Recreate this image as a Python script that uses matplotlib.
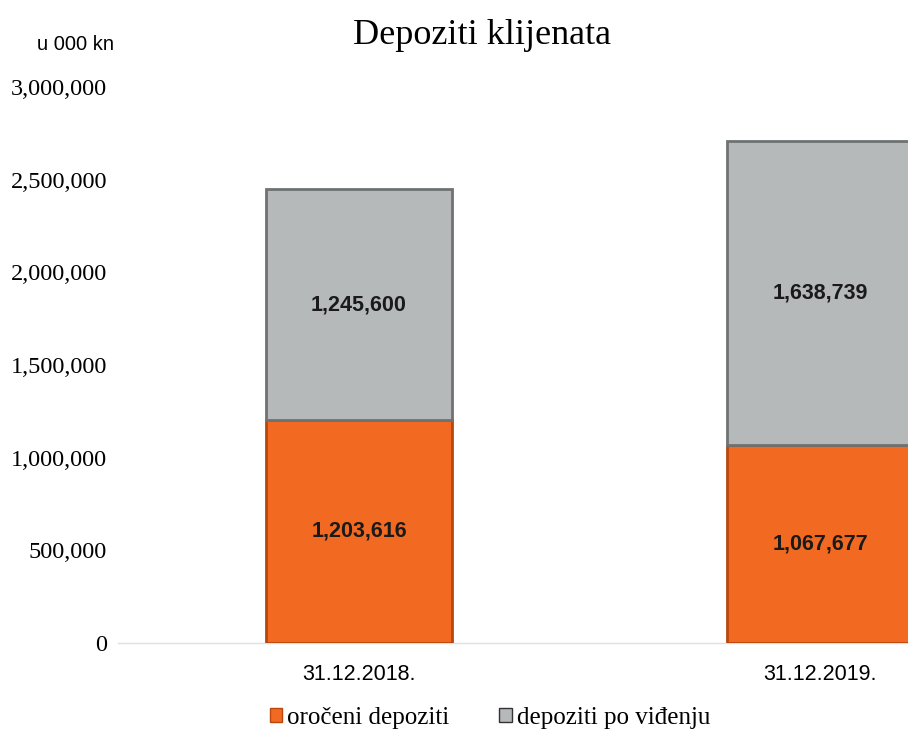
import matplotlib
matplotlib.use("Agg")
import matplotlib.pyplot as plt
from matplotlib.patches import Patch
from matplotlib.ticker import FuncFormatter

categories = ["31.12.2018.", "31.12.2019."]
oroceni = [1203616, 1067677]
po_vidjenju = [1245600, 1638739]
series_names = ["oročeni depoziti", "depoziti po viđenju"]
yticks = [0, 500000, 1000000, 1500000, 2000000, 2500000, 3000000]

orange = "#F26A21"
orange_edge = "#B8470F"
gray = "#B6B9B9"
gray_edge = "#6E7272"

fig = plt.figure(figsize=(9.08, 7.43), dpi=100)
ax = fig.add_axes([118/908, 100/743, 790/908, 556/743])

x = list(range(len(categories)))
width = 0.403
ax.bar(x, oroceni, width, color=orange, edgecolor=orange_edge, linewidth=2.0, zorder=3)
ax.bar(x, po_vidjenju, width, bottom=oroceni, color=gray, edgecolor=gray_edge, linewidth=2.0, zorder=3)

for i in x:
    ax.text(i, oroceni[i] / 2, f"{oroceni[i]:,}", ha="center", va="center",
            fontsize=15.5, fontweight="bold", family="Liberation Sans", color="#1a1a1a", zorder=4)
    ax.text(i, oroceni[i] + po_vidjenju[i] / 2, f"{po_vidjenju[i]:,}", ha="center", va="center",
            fontsize=15.5, fontweight="bold", family="Liberation Sans", color="#1a1a1a", zorder=4)

ax.set_xlim((118 - 359) / 461, (908 - 359) / 461)
ax.set_ylim(0, 3000000)
ax.set_yticks(yticks)
ax.yaxis.set_major_formatter(FuncFormatter(lambda v, p: f"{int(v):,}"))
ax.set_xticks(x)
ax.set_xticklabels(categories, family="Liberation Sans", fontsize=15.5)
for lab in ax.get_yticklabels():
    lab.set_family("Liberation Serif")
    lab.set_fontsize(17.5)
ax.tick_params(axis="y", length=0, pad=8)
ax.tick_params(axis="x", length=0, pad=15)
for s in ["top", "right", "left"]:
    ax.spines[s].set_visible(False)
ax.spines["bottom"].set_color("#E0E0E0")
ax.spines["bottom"].set_linewidth(1.0)

fig.text(482/908, 1 - 35/743, "Depoziti klijenata", ha="center", va="center",
         family="Liberation Serif", fontsize=26)
fig.text(37/908, 1 - 45/743, "u 000 kn", ha="left", va="center",
         family="Liberation Sans", fontsize=14.5)

handles = [Patch(facecolor=orange, edgecolor=orange_edge), Patch(facecolor=gray, edgecolor="#333333")]
fig.legend(handles, series_names, loc="center", bbox_to_anchor=(490/908, 1 - 718/743),
           ncol=2, frameon=False, prop={"family": "Liberation Serif", "size": 18},
           handlelength=0.5, handleheight=0.5, handletextpad=0.2, columnspacing=2.0)

fig.savefig("out.png", dpi=100)
